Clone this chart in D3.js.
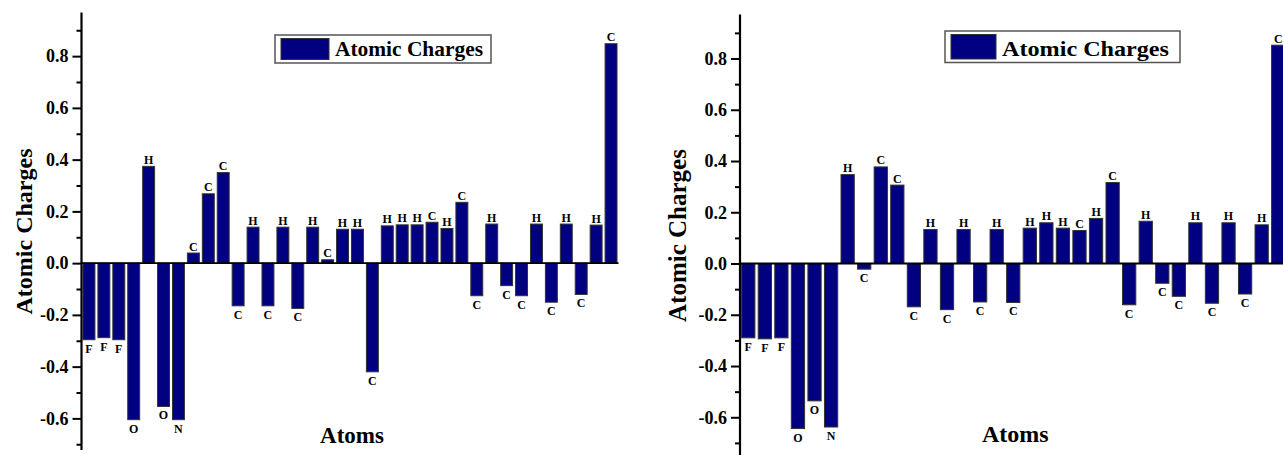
<!DOCTYPE html>
<html>
<head>
<meta charset="utf-8">
<script src="https://cdn.jsdelivr.net/npm/d3@7"></script>
<style>
  html, body { margin: 0; padding: 0; background: #fff; }
  svg { display: block; }
</style>
</head>
<body>
<svg id="chart" width="1283" height="455"></svg>
<script>
// ---------- data ----------
const leftAtoms = ["F","F","F","O","H","O","N","C","C","C","C","H","C","H","C","H","C","H","H","C",
                   "H","H","H","C","H","C","C","H","C","C","H","C","H","C","H","C"];
const leftCharges = [-0.296,-0.288,-0.296,-0.605,0.374,-0.554,-0.605,0.039,0.268,0.350,
                     -0.165,0.139,-0.165,0.139,-0.175,0.139,0.013,0.131,0.131,-0.420,
                     0.144,0.148,0.148,0.158,0.134,0.235,-0.126,0.151,-0.087,-0.126,
                     0.151,-0.151,0.151,-0.121,0.147,0.848];

const rightAtoms = ["F","F","F","O","O","N","H","C","C","C","C","H","C","H","C","H","C","H","H","H",
                    "C","H","C","C","H","C","C","H","C","H","C","H","C"];
const rightCharges = [-0.290,-0.294,-0.290,-0.644,-0.536,-0.638,0.347,-0.022,0.377,0.306,
                      -0.169,0.133,-0.180,0.133,-0.150,0.133,-0.152,0.138,0.159,0.138,
                      0.129,0.176,0.316,-0.161,0.165,-0.077,-0.128,0.159,-0.155,0.159,
                      -0.119,0.151,0.852];

const majorTicks = [-0.6,-0.4,-0.2,0.0,0.2,0.4,0.6,0.8];
const minorTicks = [-0.7,-0.5,-0.3,-0.1,0.1,0.3,0.5,0.7,0.9];
const seriesName = "Atomic Charges";
const xTitle = "Atoms";
const yTitle = "Atomic Charges";

// ---------- drawing ----------
const FONT = '"Liberation Serif", "Times New Roman", Times, "Nimbus Roman", "DejaVu Serif", serif';
const svg = d3.select("#chart");
const BAR = "#000080", BAR_STROKE = "#333333";

function txt(sel) {
  return sel.style("font-family", FONT).style("font-weight", "bold").attr("fill", "#000");
}

function panel(cfg, atoms, charges) {
  const g = svg.append("g");
  const idx = d3.range(atoms.length);
  const x = d3.scaleBand().domain(idx).range([cfg.x0, cfg.x1]).paddingInner(0.2).paddingOuter(0.1);
  const y = d3.scaleLinear().domain(cfg.yDomain).range([cfg.yBottom, cfg.yTop]);

  // bars
  g.selectAll("rect.bar").data(idx).join("rect")
    .attr("class", "bar")
    .attr("x", i => x(i))
    .attr("width", x.bandwidth())
    .attr("y", i => y(Math.max(0, charges[i])))
    .attr("height", i => Math.abs(y(charges[i]) - y(0)))
    .attr("fill", BAR).attr("stroke", BAR_STROKE).attr("stroke-width", 1);

  // zero line
  g.append("line").attr("x1", cfg.x0).attr("x2", cfg.x1)
    .attr("y1", y(0)).attr("y2", y(0))
    .attr("stroke", "#000").attr("stroke-width", 1.8);

  // bar labels
  txt(g.selectAll("text.lbl").data(idx).join("text")
    .attr("class", "lbl")
    .attr("x", i => x(i) + x.bandwidth() / 2)
    .attr("y", i => charges[i] >= 0 ? y(charges[i]) - 2.5 : y(charges[i]) + 13)
    .attr("text-anchor", "middle")
    .attr("font-size", 12)
    .text(i => atoms[i]));

  // y axis major
  const axMajor = d3.axisLeft(y).tickValues(majorTicks).tickSize(9).tickPadding(4)
    .tickFormat(d => d3.format(".1f")(d).replace("−", "-"));
  const ga = g.append("g").attr("transform", `translate(${cfg.x0},0)`).call(axMajor);
  ga.select(".domain").remove();
  ga.selectAll(".tick line").attr("stroke", "#000").attr("stroke-width", 2);
  txt(ga.selectAll(".tick text").attr("font-size", 18));

  const axMinor = d3.axisLeft(y).tickValues(minorTicks).tickSize(5).tickFormat("");
  const gm = g.append("g").attr("transform", `translate(${cfg.x0},0)`).call(axMinor);
  gm.select(".domain").remove();
  gm.selectAll(".tick line").attr("stroke", "#000").attr("stroke-width", 2);

  // axis line
  g.append("line").attr("x1", cfg.x0).attr("x2", cfg.x0)
    .attr("y1", cfg.yTop - 0.5).attr("y2", cfg.yBottom)
    .attr("stroke", "#000").attr("stroke-width", 2.2);

  // axis titles
  txt(g.append("text")
    .attr("transform", `translate(${cfg.yTitleX},${(cfg.yTop + cfg.yBottom) / 2}) rotate(-90)`)
    .attr("text-anchor", "middle").attr("font-size", cfg.yTitleSize)
    .text(yTitle));
  txt(g.append("text")
    .attr("x", (cfg.x0 + cfg.x1) / 2 + 2).attr("y", cfg.xTitleY)
    .attr("text-anchor", "middle").attr("font-size", cfg.xTitleSize)
    .text(xTitle));

  // legend
  const L = cfg.legend;
  g.append("rect").attr("x", L.x).attr("y", L.y).attr("width", L.w).attr("height", L.h)
    .attr("fill", "#fff").attr("stroke", "#555").attr("stroke-width", 1.5);
  g.append("rect").attr("x", L.x + 6).attr("y", L.y + 3.5).attr("width", L.sw).attr("height", L.h - 7)
    .attr("fill", BAR).attr("stroke", BAR_STROKE).attr("stroke-width", 1);
  txt(g.append("text").attr("x", L.x + L.sw + 12).attr("y", L.y + L.h - 7)
    .attr("font-size", L.fs).attr("textLength", L.tl).attr("lengthAdjust", "spacingAndGlyphs")
    .text(seriesName));
}

panel({
  x0: 81.5, x1: 618.5, yTop: 13, yBottom: 450, yDomain: [-0.7222, 0.9667],
  yTitleX: 31.5, yTitleSize: 24, xTitleY: 443, xTitleSize: 23,
  legend: { x: 275, y: 35, w: 216, h: 28, sw: 48, fs: 21, tl: 148 }
}, leftAtoms, leftCharges);

panel({
  x0: 740, x1: 1286.5, yTop: 15, yBottom: 456, yDomain: [-0.7511, 0.9698],
  yTitleX: 686, yTitleSize: 25, xTitleY: 442, xTitleSize: 24,
  legend: { x: 945, y: 31, w: 235, h: 31.5, sw: 45, fs: 22, tl: 167 }
}, rightAtoms, rightCharges);
</script>
</body>
</html>
